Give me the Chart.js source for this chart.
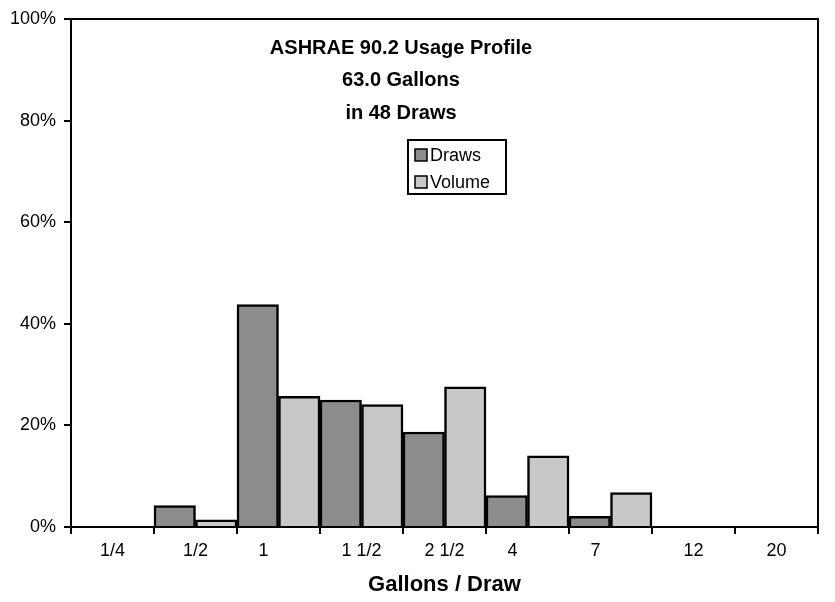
<!DOCTYPE html>
<html>
<head>
<meta charset="utf-8">
<script src="https://cdn.jsdelivr.net/npm/chart.js@4"></script>
<style>
    body { margin: 0; background: #fff; }
    #wrap { width: 835px; height: 602px; position: relative; }
</style>
</head>
<body>
<div id="wrap"><canvas id="usageChart"></canvas></div>
<script>
const FONT = '"Liberation Sans", Arial, sans-serif';

const sizeLabels = ['1/4', '1/2', '1', '1 1/2', '2 1/2', '4', '7', '12', '20'];
const drawsPct = [0, 4.2, 43.8, 25.0, 18.7, 6.2, 2.1, 0, 0];
const volumePct = [0, 1.4, 25.7, 24.1, 27.6, 14.0, 6.8, 0, 0];
const yTicks = [0, 20, 40, 60, 80, 100];
const titleLines = ['ASHRAE 90.2 Usage Profile', '63.0 Gallons', 'in 48 Draws'];

const drawsColor = '#8c8c8c';
const volumeColor = '#c8c8c8';

// in the original a few labels sit left of centre (trailing blanks)
const leftShifted = ['1', '4', '7'];

// title, legend box and the frame all sit inside the plot area
const insidePlot = {
    id: 'insidePlot',
    afterDraw(chart) {
        const ctx = chart.ctx;
        const area = chart.chartArea;
        ctx.save();

        ctx.strokeStyle = '#000';
        ctx.lineWidth = 2;
        ctx.strokeRect(area.left, area.top, area.right - area.left, area.bottom - area.top);

        ctx.fillStyle = '#000';
        ctx.font = 'bold 20px ' + FONT;
        ctx.textAlign = 'center';
        ctx.textBaseline = 'middle';
        titleLines.forEach((line, i) => {
            ctx.fillText(line, 401, 48 + i * 32.5);
        });

        // legend
        ctx.lineWidth = 2;
        ctx.strokeRect(408, 140, 98, 54);
        const items = [
            { label: 'Draws', color: drawsColor },
            { label: 'Volume', color: volumeColor }
        ];
        ctx.font = '18px ' + FONT;
        ctx.textAlign = 'left';
        items.forEach((item, i) => {
            const y = 155 + i * 27;
            ctx.fillStyle = item.color;
            ctx.fillRect(415, y - 6, 12, 12);
            ctx.lineWidth = 1.5;
            ctx.strokeRect(415, y - 6, 12, 12);
            ctx.fillStyle = '#000';
            ctx.fillText(item.label, 430, y + 1);
        });

        ctx.restore();
    }
};

const ctx = document.getElementById('usageChart').getContext('2d');

new Chart(ctx, {
    type: 'bar',
    data: {
        labels: sizeLabels,
        datasets: [
            {
                label: 'Draws',
                data: drawsPct,
                backgroundColor: drawsColor,
                borderColor: '#000',
                borderWidth: 2.5,
                categoryPercentage: 1,
                barPercentage: 1
            },
            {
                label: 'Volume',
                data: volumePct,
                backgroundColor: volumeColor,
                borderColor: '#000',
                borderWidth: 2.5,
                categoryPercentage: 1,
                barPercentage: 1
            }
        ]
    },
    options: {
        responsive: true,
        maintainAspectRatio: false,
        animation: false,
        layout: {
            padding: { top: 19, right: 17, left: 0, bottom: 0 }
        },
        plugins: {
            legend: { display: false },
            title: { display: false },
            tooltip: { enabled: false }
        },
        scales: {
            x: {
                afterFit(scale) { scale.height = 75; },
                grid: {
                    display: true,
                    drawOnChartArea: false,
                    drawTicks: true,
                    tickLength: 7,
                    color: '#000',
                    lineWidth: 2,
                    offset: true
                },
                border: { color: '#000', width: 2 },
                ticks: {
                    color: '#000',
                    font: { family: FONT, size: 18 },
                    padding: 6,
                    maxRotation: 0,
                    autoSkip: false,
                    callback: function(value, index) {
                        const label = sizeLabels[index];
                        return leftShifted.includes(label) ? label + '\u00a0'.repeat(6) : label;
                    }
                },
                title: {
                    display: true,
                    text: 'Gallons / Draw',
                    color: '#000',
                    font: { family: FONT, size: 22, weight: 'bold' },
                    padding: { top: 0, bottom: 4 }
                }
            },
            y: {
                min: 0,
                max: 100,
                afterFit(scale) { scale.width = 71; },
                afterBuildTicks(scale) {
                    scale.ticks = yTicks.map(v => ({ value: v }));
                },
                grid: {
                    display: true,
                    drawOnChartArea: false,
                    drawTicks: true,
                    tickLength: 7,
                    color: '#000',
                    lineWidth: 2
                },
                border: { color: '#000', width: 2 },
                ticks: {
                    color: '#000',
                    font: { family: FONT, size: 18 },
                    padding: 8,
                    callback: v => v + '%'
                }
            }
        }
    },
    plugins: [insidePlot]
});
</script>
</body>
</html>
